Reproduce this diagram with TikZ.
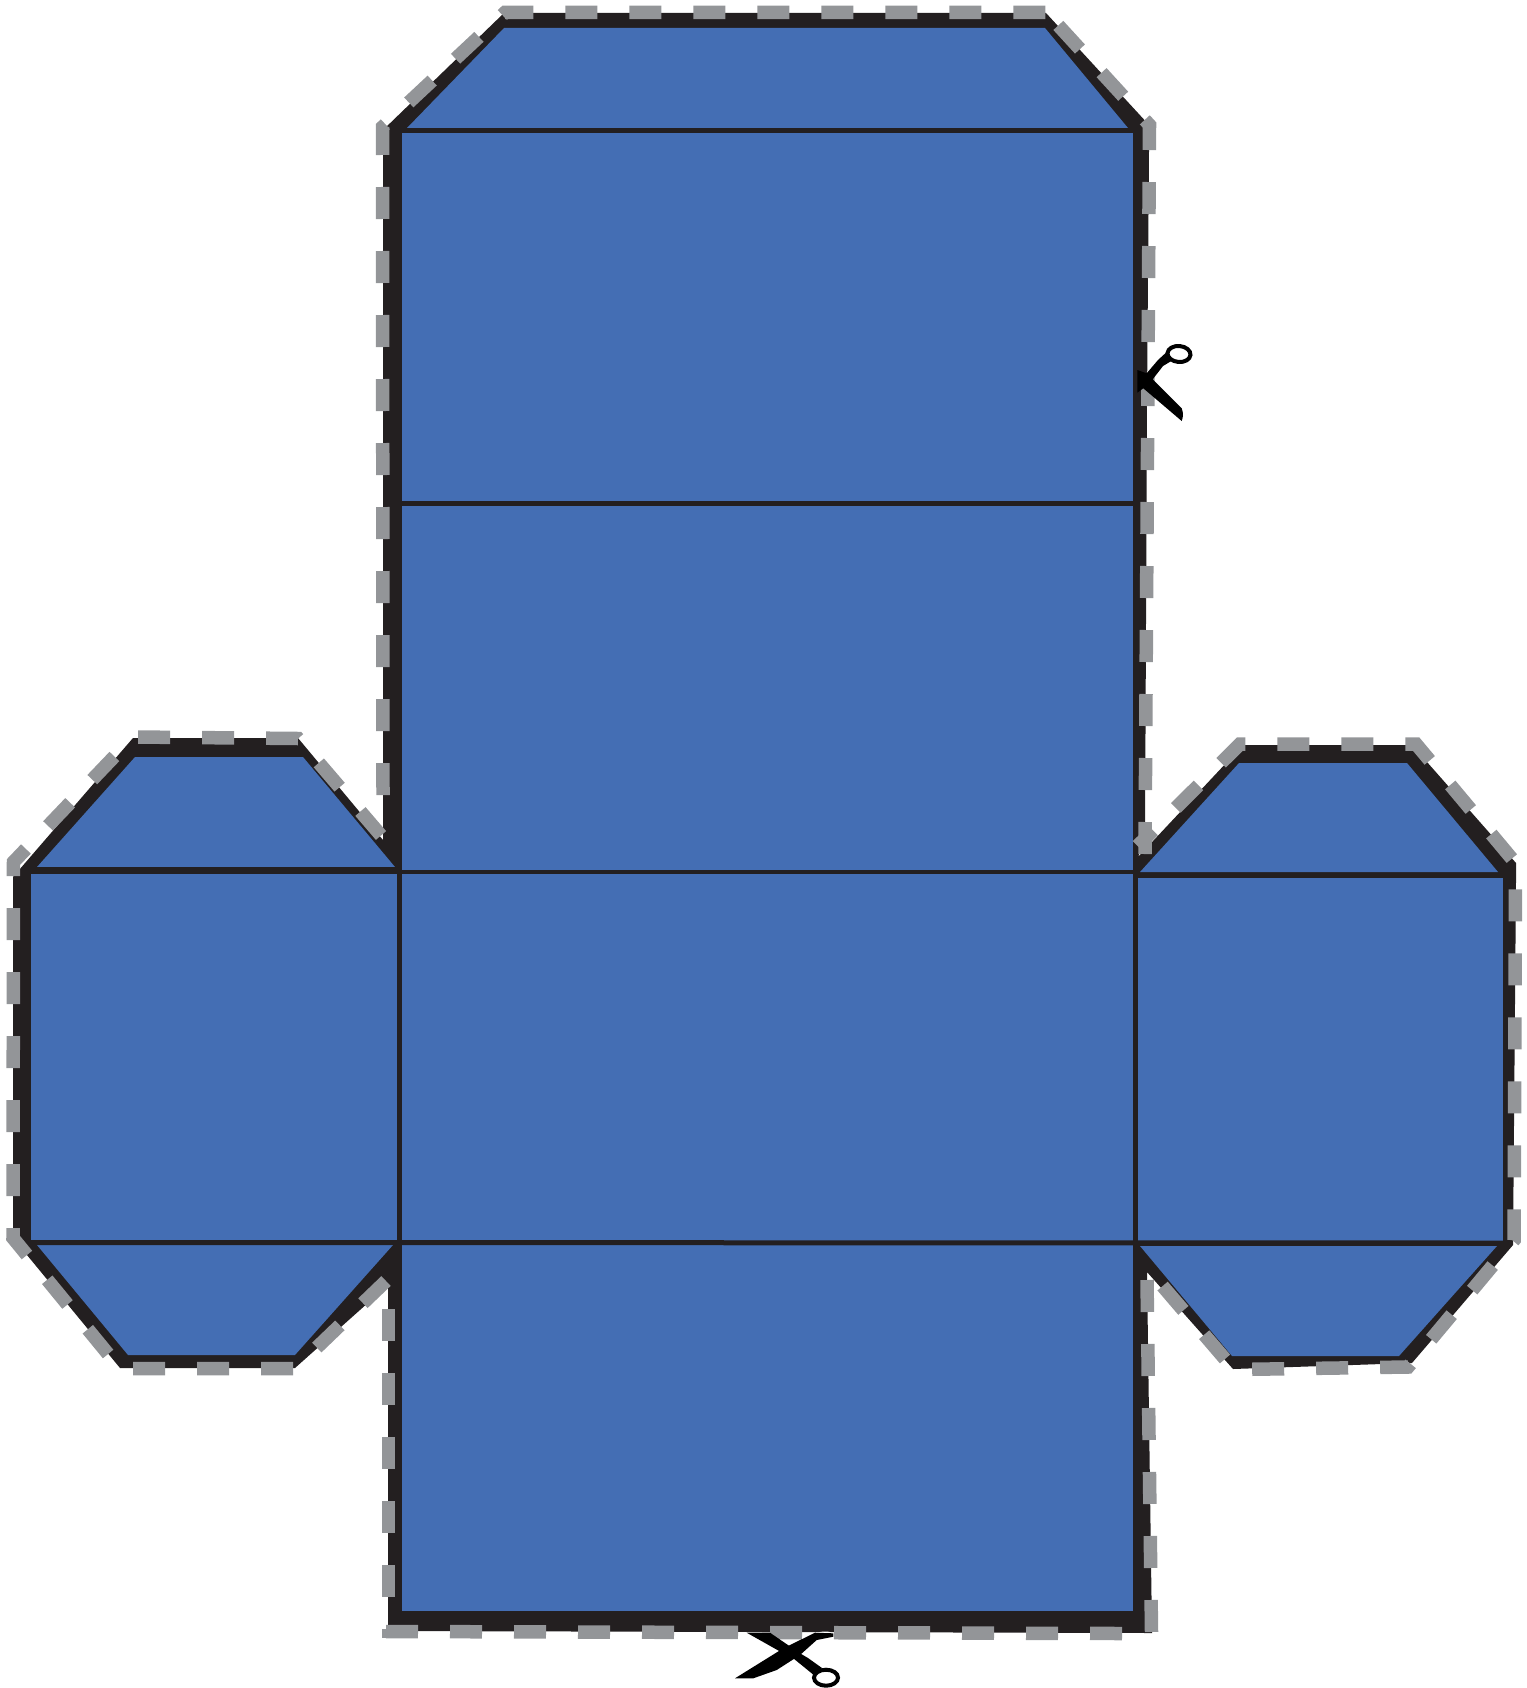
\documentclass[tikz,border=0pt]{standalone}
\definecolor{netblue}{HTML}{446EB4}
\definecolor{netblack}{HTML}{231F20}
\definecolor{netgrey}{HTML}{939598}
\begin{document}
\begin{tikzpicture}[
        x=1pt, y=-1pt,
        face/.style={fill=netblue},
        fold/.style={draw=netblack, line width=5pt},
        cutline/.style={draw=netgrey, line width=13.5pt, dash pattern=on 32pt off 32pt},
        blade/.style={fill=black},
        ring/.style={draw=black, fill=white, line width=4pt}
    ]
        \useasboundingbox (0,0) rectangle (1526,1688);

        % outline
        \fill[netblack] (504,13) -- (1046,13) -- (1149,125) -- (1149,150) -- (1147,400) -- (1145,840)
            -- (1138,857) -- (1243,745) -- (1412,745) -- (1516,863) -- (1516,880) -- (1513,1245)
            -- (1412,1363) -- (1233,1369) -- (1147,1272) -- (1152,1633) -- (388,1631) -- (388,1285)
            -- (295,1368) -- (120,1368) -- (13,1238) -- (13,877) -- (133,738) -- (298,738)
            -- (383,840) -- (383,130) -- cycle;

        % cutting lines
        \draw[cutline] (1145,854) -- (1149.5,125) -- (1046.5,12.5);
        \draw[cutline, dash phase=10pt] (1137.5,846) -- (1240,744) -- (1416,744) -- (1515.5,863)
            -- (1514,1240) -- (1408,1367) -- (1234,1369.5) -- (1162.5,1286);
        \draw[cutline] (1147,1280) -- (1151.5,1632);
        \draw[cutline] (386,1631.5) -- (1122,1633.5);
        \draw[cutline] (388.5,1309) -- (388.5,1638);
        \draw[cutline] (386,1281) -- (295,1368.5) -- (120,1368.5) -- (13,1238) -- (13.5,862)
            -- (133,737) -- (298,738.5) -- (381,835.5);
        \draw[cutline] (383,795) -- (382.5,127) -- (505,12.5) -- (1046,12.5);

        % faces
        \fill[face] (402,128) rectangle (1133,1611);
        \fill[face] (407,128) -- (504,28) -- (1045,28) -- (1128,128) -- cycle;
        \fill[face] (31,870) rectangle (398,1242);
        \fill[face] (37,867) -- (135,757) -- (303,757) -- (395,867) -- cycle;
        \fill[face] (37,1245) -- (393,1245) -- (295,1355) -- (128,1355) -- cycle;
        \fill[face] (1135,875) rectangle (1503,1243);
        \fill[face] (1140,872) -- (1239,763) -- (1407,763) -- (1498,872) -- cycle;
        \fill[face] (1140,1246) -- (1497,1246) -- (1399,1356) -- (1232,1356) -- cycle;

        % fold lines
        \draw[fold] (402,131) -- (1133,131);
        \draw[fold] (402,503) -- (1133,503);
        \draw[fold, line width=4pt] (400,871.5) -- (1135,871.5);
        \draw[fold, line width=7pt] (31,870.5) -- (400,870.5);
        \draw[fold] (1135,875) -- (1503,875);
        \draw[fold] (31,1242.5) -- (1503,1243);
        \draw[fold] (399.5,868) -- (399.5,1245);
        \draw[fold] (1135,870) -- (1135,1245);

        % scissors
        \fill[blade] (1137.3,370) -- (1146.7,373.3) -- (1158,360) -- (1170,349) -- (1173,360) -- (1163,366)
            -- (1152.7,379.3) -- (1181.7,408.3) to[bend left=20] (1181.7,421) -- (1143.3,388.3) -- (1137.3,392.7) -- cycle;
        \draw[ring, rotate around={-5:(1179,354)}] (1179,354) ellipse (11.5 and 8);

        \fill[white] (825,1633) ellipse (6.5 and 1.5);
        \fill[blade] (735,1678.3) -- (783.3,1648.3) -- (815,1632.7) -- (833.3,1633.3) -- (833.3,1636.7)
            -- (816.7,1640) -- (800,1655) -- (776.7,1670) -- (753.3,1678.3) -- cycle;
        \fill[blade] (746.7,1632.7) -- (770,1632.7) -- (800,1653.3) -- (808,1658) -- (822,1668) -- (815,1676)
            -- (793.3,1658.3) -- (783.3,1653.3) -- cycle;
        \draw[ring] (826,1677.7) ellipse (12 and 8);
    \end{tikzpicture}
\end{document}
